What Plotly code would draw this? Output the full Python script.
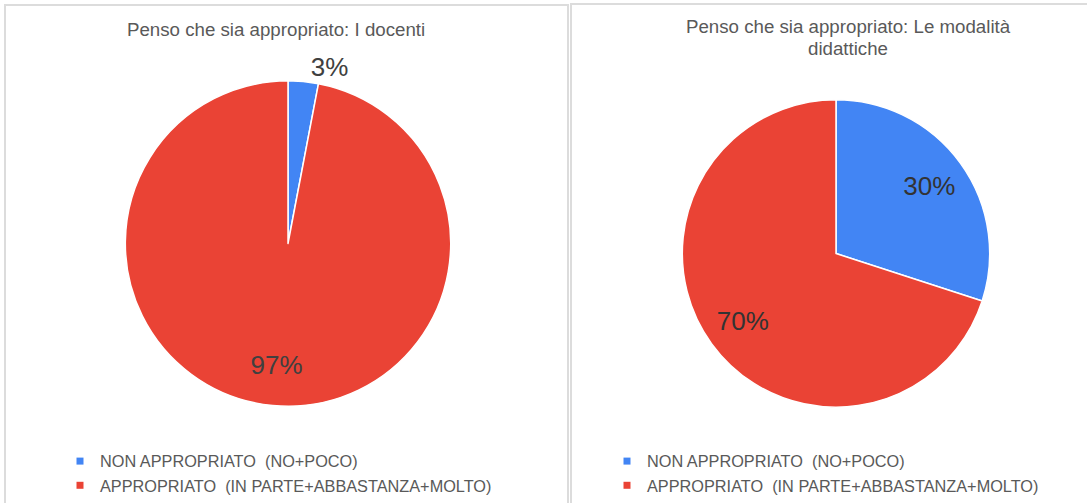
import plotly.graph_objects as go

W, H = 1087, 503

categories = ["NON APPROPRIATO\u00a0 (NO+POCO)",
              "APPROPRIATO\u00a0 (IN PARTE+ABBASTANZA+MOLTO)"]
docenti_values = [3, 97]
modalita_values = [30, 70]
title_docenti = "Penso che sia appropriato: I docenti"
title_modalita = ["Penso che sia appropriato: Le modalità", "didattiche"]
colors = ["#4285F4", "#EA4335"]

FONT = "Liberation Sans, Arial, sans-serif"
TEXT_GRAY = "#595959"


def px(x0, x1):
    return [x0 / W, x1 / W]


def py(top, bottom):
    return [(H - bottom) / H, (H - top) / H]


dom_left = dict(x=px(125, 451), y=py(81, 407))
dom_right = dict(x=px(682, 990), y=py(100, 408))

fig = go.Figure()

# main pies
fig.add_trace(go.Pie(
    labels=categories, values=docenti_values,
    sort=False, direction="clockwise", rotation=0,
    marker=dict(colors=colors, line=dict(color="white", width=1.5)),
    texttemplate="%{percent:.0%}",
    textposition=["outside", "none"],
    textfont=dict(size=26, color="#404040", family=FONT),
    domain=dom_left, showlegend=False, hoverinfo="label+percent",
))
fig.add_trace(go.Pie(
    labels=categories, values=modalita_values,
    sort=False, direction="clockwise", rotation=0,
    marker=dict(colors=colors, line=dict(color="white", width=1.5)),
    textposition="none",
    domain=dom_right, showlegend=False, hoverinfo="label+percent",
))

# transparent ring overlays carrying the inside percentage labels
clear = ["rgba(0,0,0,0)", "rgba(0,0,0,0)"]
fig.add_trace(go.Pie(
    labels=categories, values=docenti_values, hole=0.5,
    sort=False, direction="clockwise", rotation=0,
    marker=dict(colors=clear, line=dict(width=0)),
    texttemplate="%{percent:.0%}",
    textposition=["none", "inside"],
    insidetextorientation="horizontal",
    textfont=dict(size=26, color="#404040", family=FONT),
    domain=dom_left, showlegend=False, hoverinfo="skip",
))
fig.add_trace(go.Pie(
    labels=categories, values=modalita_values, hole=0.5,
    sort=False, direction="clockwise", rotation=0,
    marker=dict(colors=clear, line=dict(width=0)),
    texttemplate="%{percent:.0%}",
    textposition="inside",
    insidetextorientation="horizontal",
    textfont=dict(size=26, color="#333333", family=FONT),
    domain=dom_right, showlegend=False, hoverinfo="skip",
))

# legend entries (one legend per panel)
for leg in ["legend", "legend2"]:
    for name, col in zip(categories, colors):
        fig.add_trace(go.Scatter(
            x=[None], y=[None], mode="markers", name=name,
            marker=dict(symbol="square", size=7, color=col),
            legend=leg, hoverinfo="skip",
        ))

legend_common = dict(
    font=dict(size=16.3, color=TEXT_GRAY, family=FONT),
    bgcolor="rgba(0,0,0,0)", orientation="v", tracegroupgap=0,
    xanchor="left", yanchor="top", itemclick=False, itemdoubleclick=False,
)

title_font = dict(size=18.7, color=TEXT_GRAY, family=FONT)

fig.update_layout(
    width=W, height=H,
    margin=dict(l=0, r=0, t=0, b=0),
    paper_bgcolor="white", plot_bgcolor="white",
    showlegend=True,
    xaxis=dict(visible=False), yaxis=dict(visible=False),
    legend=dict(x=60 / W, y=1 - 445 / H, **legend_common),
    legend2=dict(x=607 / W, y=1 - 445 / H, **legend_common),
    annotations=[
        dict(text=title_docenti, x=276 / W, y=1 - 30 / H, xref="paper", yref="paper",
             showarrow=False, xanchor="center", yanchor="middle", font=title_font),
        dict(text=title_modalita[0], x=848 / W, y=1 - 27 / H, xref="paper", yref="paper",
             showarrow=False, xanchor="center", yanchor="middle", font=title_font),
        dict(text=title_modalita[1], x=848 / W, y=1 - 49 / H, xref="paper", yref="paper",
             showarrow=False, xanchor="center", yanchor="middle", font=title_font),
    ],
    shapes=[
        dict(type="rect", xref="paper", yref="paper",
             x0=5 / W, x1=568 / W, y0=-0.05, y1=1 - 5 / H,
             line=dict(color="#dcdcdc", width=2)),
        dict(type="rect", xref="paper", yref="paper",
             x0=571 / W, x1=1.05, y0=-0.05, y1=1 - 4 / H,
             line=dict(color="#dcdcdc", width=2)),
    ],
)

fig.write_html("out.html", config={"displayModeBar": False},
               post_script="document.body.style.margin='0';")
